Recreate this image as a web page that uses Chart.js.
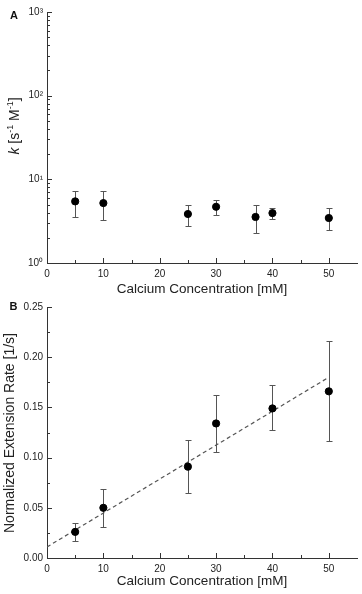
<!DOCTYPE html>
<html>
<head>
<meta charset="utf-8">
<script src="https://cdn.jsdelivr.net/npm/chart.js@4/dist/chart.umd.min.js"></script>
<style>
  body { margin: 0; background: #fff; }
  #wrap { position: relative; width: 362px; height: 594px; }
  canvas { position: absolute; left: 0; }
  #chartA { top: 0; }
  #chartB { top: 297px; }
</style>
</head>
<body>
<div id="wrap">
  <canvas id="chartA" width="362" height="297"></canvas>
  <canvas id="chartB" width="362" height="297"></canvas>
</div>
<script>
// Panel A: rate constant k against calcium concentration (log axis)
const concA = [5, 10, 25, 30, 37, 40, 50];
const kMean = [5.45, 5.2, 3.85, 4.7, 3.55, 3.95, 3.45];
const kHigh = [7.25, 7.2, 4.95, 5.7, 4.9, 4.6, 4.55];
const kLow = [3.55, 3.3, 2.75, 3.75, 2.3, 3.35, 2.45];

// Panel B: normalized extension rate, with linear fit
const concB = [5, 10, 25, 30, 40, 50];
const rateMean = [0.026, 0.050, 0.091, 0.134, 0.149, 0.166];
const rateHigh = [0.035, 0.069, 0.118, 0.162, 0.172, 0.216];
const rateLow = [0.017, 0.031, 0.065, 0.106, 0.127, 0.117];
const fitX = [0, 50];
const fitY = [0.011, 0.180];

// Tick values / labels
const xTicks = [0, 10, 20, 30, 40, 50];
const xMinor = [5, 15, 25, 35, 45];
const logTicks = [1, 10, 100, 1000];
const logTickLabels = ['10\u2070', '10\u00b9', '10\u00b2', '10\u00b3'];
const logMinor = [2, 3, 4, 5, 6, 7, 8, 9, 20, 30, 40, 50, 60, 70, 80, 90, 200, 300, 400, 500, 600, 700, 800, 900];
const rateTicks = [0, 0.05, 0.10, 0.15, 0.20, 0.25];
const rateTickLabels = ['0.00', '0.05', '0.10', '0.15', '0.20', '0.25'];
const rateMinor = [0.025, 0.075, 0.125, 0.175, 0.225];

const FONT = '"Liberation Sans", Arial, sans-serif';
const AXIS_COLOR = '#333';
const TEXT_COLOR = '#222';

function drawTicks(ctx, scale, values, len, area) {
    values.forEach(v => {
        const p = Math.round(scale.getPixelForValue(v)) + 0.5;
        ctx.beginPath();
        if (scale.isHorizontal()) {
            ctx.moveTo(p, area.bottom);
            ctx.lineTo(p, area.bottom - len);
        } else {
            ctx.moveTo(area.left, p);
            ctx.lineTo(area.left + len, p);
        }
        ctx.stroke();
    });
}

// rich text: list of {text, italic, sup}
function richWidth(ctx, parts, size) {
    let w = 0;
    parts.forEach(p => {
        ctx.font = fontFor(p, size);
        w += ctx.measureText(p.text).width;
    });
    return w;
}

function fontFor(p, size) {
    const s = p.sup ? Math.round(size * 0.62) : size;
    return (p.italic ? 'italic ' : '') + s + 'px ' + FONT;
}

function drawRich(ctx, parts, size, x, y, rotate) {
    ctx.save();
    ctx.translate(x, y);
    if (rotate) ctx.rotate(-Math.PI / 2);
    ctx.fillStyle = TEXT_COLOR;
    ctx.textBaseline = 'alphabetic';
    ctx.textAlign = 'left';
    let cx = -richWidth(ctx, parts, size) / 2;
    parts.forEach(p => {
        ctx.font = fontFor(p, size);
        ctx.fillText(p.text, cx, p.sup ? -size * 0.45 : 0);
        cx += ctx.measureText(p.text).width;
    });
    ctx.restore();
}

function panelPlugin(cfg) {
    return {
        id: 'panel' + cfg.letter,
        beforeDatasetsDraw(chart) {
            const { ctx, scales: { x, y } } = chart;
            ctx.save();
            ctx.strokeStyle = '#555';
            ctx.lineWidth = 1;
            cfg.xs.forEach((v, i) => {
                const px = Math.round(x.getPixelForValue(v)) + 0.5;
                const top = Math.round(y.getPixelForValue(cfg.hi[i])) + 0.5;
                const bot = Math.round(y.getPixelForValue(cfg.lo[i])) + 0.5;
                ctx.beginPath();
                ctx.moveTo(px, top); ctx.lineTo(px, bot);
                ctx.moveTo(px - 3, top); ctx.lineTo(px + 3, top);
                ctx.moveTo(px - 3, bot); ctx.lineTo(px + 3, bot);
                ctx.stroke();
            });
            ctx.restore();
        },
        afterDraw(chart) {
            const { ctx, chartArea, scales: { x, y } } = chart;
            ctx.save();
            ctx.strokeStyle = AXIS_COLOR;
            ctx.lineWidth = 1;
            drawTicks(ctx, x, xTicks, 5, chartArea);
            drawTicks(ctx, x, xMinor, 3, chartArea);
            drawTicks(ctx, y, cfg.yMajor, 5, chartArea);
            drawTicks(ctx, y, cfg.yMinor, 3, chartArea);

            // panel letter
            ctx.fillStyle = '#111';
            ctx.font = 'bold 11px ' + FONT;
            ctx.textAlign = 'center';
            ctx.textBaseline = 'middle';
            ctx.fillText(cfg.letter, cfg.letterPos[0], cfg.letterPos[1]);

            // x title
            ctx.fillStyle = TEXT_COLOR;
            ctx.font = '13.5px ' + FONT;
            ctx.textBaseline = 'alphabetic';
            ctx.fillText('Calcium Concentration [mM]', (chartArea.left + chartArea.right) / 2, cfg.xTitleY);
            ctx.restore();

            drawRich(ctx, cfg.yTitle, 14, cfg.yTitlePos[0], cfg.yTitlePos[1], true);
        }
    };
}

function baseScales(yCfg, xHeight) {
    const tickFont = { family: FONT, size: 10 };
    return {
        x: {
            type: 'linear',
            min: 0,
            max: 55,
            grid: { display: false, drawTicks: false },
            border: { display: true, color: AXIS_COLOR, width: 1 },
            afterBuildTicks: s => { s.ticks = xTicks.map(v => ({ value: v })); },
            ticks: { padding: 5, color: TEXT_COLOR, font: tickFont, maxRotation: 0, autoSkip: false },
            afterFit: s => { s.height = xHeight; }
        },
        y: Object.assign({
            grid: { display: false, drawTicks: false },
            border: { display: true, color: AXIS_COLOR, width: 1 },
            afterFit: s => { s.width = 47; }
        }, yCfg, {
            ticks: Object.assign({ padding: 4, color: TEXT_COLOR, font: tickFont, autoSkip: false }, yCfg.ticks)
        })
    };
}

const common = {
    responsive: false,
    animation: false,
    events: [],
    plugins: { legend: { display: false }, tooltip: { enabled: false } }
};

new Chart(document.getElementById('chartA'), {
    type: 'scatter',
    data: {
        datasets: [{
            data: concA.map((c, i) => ({ x: c, y: kMean[i] })),
            backgroundColor: '#000',
            borderColor: '#000',
            pointRadius: 3.6
        }]
    },
    options: Object.assign({}, common, {
        layout: { padding: { top: 12, right: 4, left: 0, bottom: 0 } },
        scales: baseScales({
            type: 'logarithmic',
            min: 1,
            max: 1000,
            afterBuildTicks: s => { s.ticks = logTicks.map(v => ({ value: v })); },
            ticks: { callback: (v, i) => logTickLabels[i] }
        }, 34)
    }),
    plugins: [panelPlugin({
        letter: 'A',
        letterPos: [14, 16],
        xs: concA, hi: kHigh, lo: kLow,
        yMajor: logTicks, yMinor: logMinor,
        xTitleY: 293,
        yTitle: [
            { text: 'k', italic: true },
            { text: ' [s' },
            { text: '-1', sup: true },
            { text: ' M' },
            { text: '-1', sup: true },
            { text: ']' }
        ],
        yTitlePos: [19, 126]
    })]
});

new Chart(document.getElementById('chartB'), {
    type: 'scatter',
    data: {
        datasets: [{
            data: concB.map((c, i) => ({ x: c, y: rateMean[i] })),
            backgroundColor: '#000',
            borderColor: '#000',
            pointRadius: 3.6
        }, {
            type: 'line',
            data: fitX.map((c, i) => ({ x: c, y: fitY[i] })),
            borderColor: '#555',
            borderWidth: 1.2,
            borderDash: [4, 3],
            pointRadius: 0,
            fill: false
        }]
    },
    options: Object.assign({}, common, {
        layout: { padding: { top: 10, right: 4, left: 0, bottom: 0 } },
        scales: baseScales({
            type: 'linear',
            min: 0,
            max: 0.25,
            afterBuildTicks: s => { s.ticks = rateTicks.map(v => ({ value: v })); },
            ticks: { callback: (v, i) => rateTickLabels[i] }
        }, 36)
    }),
    plugins: [panelPlugin({
        letter: 'B',
        letterPos: [13.5, 9.5],
        xs: concB, hi: rateHigh, lo: rateLow,
        yMajor: rateTicks, yMinor: rateMinor,
        xTitleY: 288,
        yTitle: [{ text: 'Normalized Extension Rate [1/s]' }],
        yTitlePos: [14, 136]
    })]
});
</script>
</body>
</html>
